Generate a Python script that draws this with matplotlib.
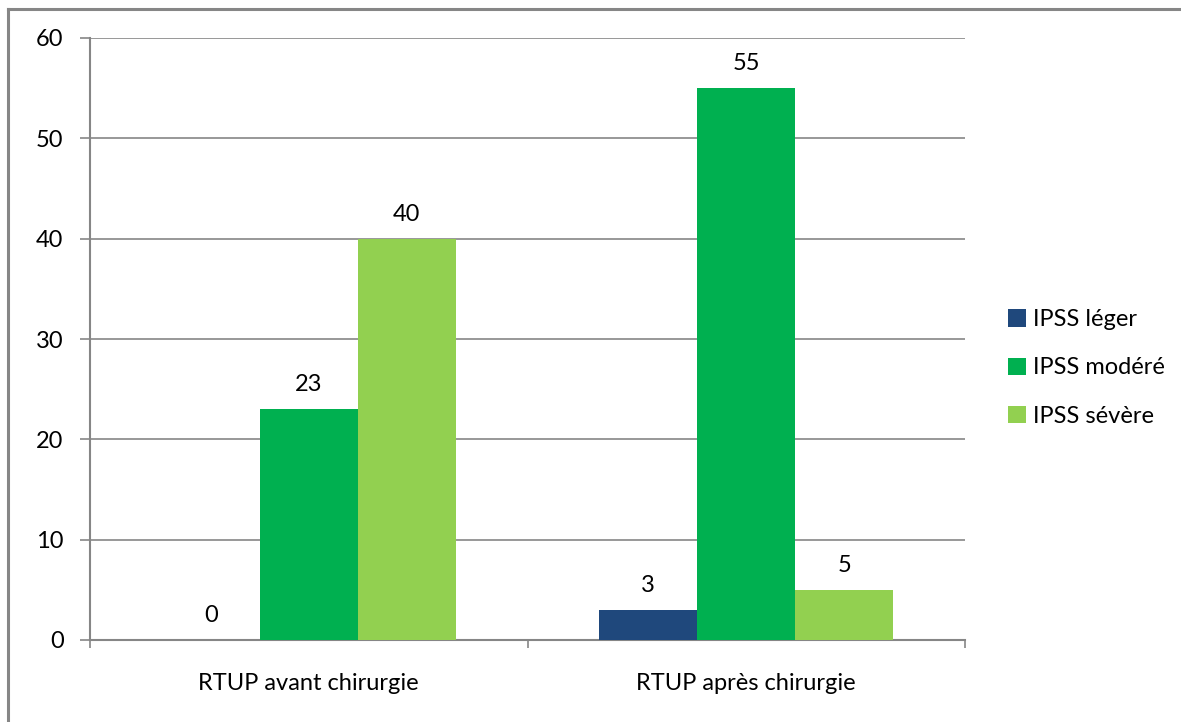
import matplotlib.pyplot as plt
import numpy as np
from matplotlib.lines import Line2D

# IPSS scores avant / après RTUP
categories = ["RTUP avant chirurgie", "RTUP après chirurgie"]
series = ["IPSS léger", "IPSS modéré", "IPSS sévère"]
leger = [0, 3]
modere = [23, 55]
severe = [40, 5]
colors = ["#1F487C", "#00B050", "#92D050"]

plt.rcParams['font.family'] = ['Lato', 'DejaVu Sans']

fig = plt.figure(figsize=(11.81, 7.22), dpi=100)
ax = fig.add_axes([90/1181, 1-640/722, 875/1181, 602/722])

x = np.arange(len(categories))
w = 0.224
grey = "#868686"

for k, (vals, name) in enumerate(zip([leger, modere, severe], series)):
    pos = x + (k - 1) * w
    bars = ax.bar(pos, vals, width=w, color=colors[k], label=name, zorder=3, linewidth=0)
    for xi, v in zip(pos, vals):
        ax.annotate(str(v), (xi, v), xytext=(0, 13), textcoords="offset points",
                    ha="center", va="baseline", fontsize=17, color="#000000")

ax.set_xlim(-0.5, 1.5)
ax.set_ylim(0, 60)
ax.set_yticks(range(0, 61, 10))
ax.grid(axis="y", color=grey, linewidth=1.2, zorder=0)
ax.set_axisbelow(True)

for s in ["top", "right"]:
    ax.spines[s].set_visible(False)
for s in ["left", "bottom"]:
    ax.spines[s].set_color(grey)
    ax.spines[s].set_linewidth(1.5)

ax.tick_params(axis="y", direction="out", length=7, width=1.2, color=grey,
               labelsize=17, pad=12)
ax.set_xticks(x)
ax.set_xticklabels(categories)
ax.tick_params(axis="x", which="major", length=0, labelsize=17, pad=24)
ax.set_xticks([-0.5, 0.5, 1.5], minor=True)
ax.tick_params(axis="x", which="minor", direction="out", length=6, width=1.2, color=grey)

leg = ax.legend(loc="center left", bbox_to_anchor=(1.025, 0.452), frameon=False,
                fontsize=17, handlelength=0.75, handleheight=0.75,
                handletextpad=0.3, labelspacing=1.15)

# cadre du graphique (haut et gauche)
fig.add_artist(Line2D([8/1181, 1], [1-9/722, 1-9/722], color=grey, linewidth=2.2,
                      transform=fig.transFigure))
fig.add_artist(Line2D([8/1181, 8/1181], [0, 1-9/722], color=grey, linewidth=2.2,
                      transform=fig.transFigure))

fig.savefig("out.png", dpi=100, facecolor="white")
